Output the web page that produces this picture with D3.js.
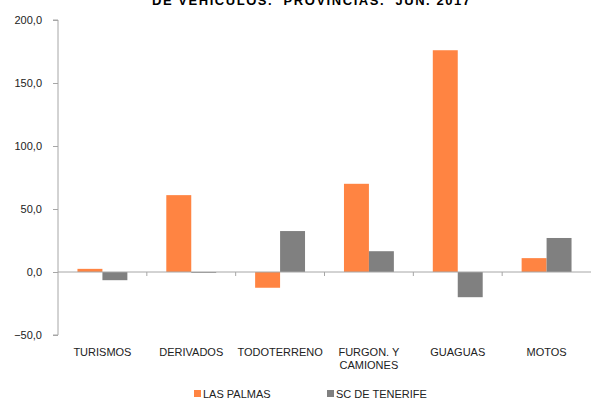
<!DOCTYPE html>
<html><head><meta charset="utf-8">
<script src="https://cdn.jsdelivr.net/npm/d3@7"></script>
<style>body{margin:0;background:#fff}svg{display:block;font-family:"Liberation Sans",Arial,sans-serif}</style>
</head><body><svg id="c" width="598" height="401"></svg>
<script>
const categories = ["TURISMOS","DERIVADOS","TODOTERRENO","FURGON. Y CAMIONES","GUAGUAS","MOTOS"];
const lasPalmas = [2.5, 61.0, -12.5, 70.0, 176.0, 11.0];
const tenerife = [-6.5, -0.5, 32.5, 16.5, -20.0, 27.0];
const seriesNames = ["LAS PALMAS","SC DE TENERIFE"];
const yTicks = [-50,0,50,100,150,200];

const svg = d3.select("#c");
const colors = ["#FF8442","#808080"];
const pLeft = 58, pRight = 591, pTop = 20, pBottom = 335;
const x = d3.scaleBand().domain(categories).range([pLeft,pRight]).paddingInner(0).paddingOuter(0);
const y = d3.scaleLinear().domain([-50,200]).range([pBottom,pTop]);
const x1 = d3.scaleBand().domain([0,1]).range([0,x.bandwidth()]).paddingInner(0).paddingOuter(0.78);

svg.append("text").attr("x",311).attr("y",5).attr("text-anchor","middle")
  .attr("font-size",13).attr("font-weight","bold").attr("fill","#000")
  .style("white-space","pre").attr("textLength",318).attr("lengthAdjust","spacing")
  .text("DE VEHICULOS.  PROVINCIAS.  JUN. 2017");

// y axis
const ya = svg.append("g").attr("transform",`translate(${pLeft},0)`)
  .call(d3.axisLeft(y).tickValues(yTicks).tickSize(5).tickFormat(d=>d3.format(".1f")(d).replace(".",",")));
ya.select(".domain").attr("stroke","#A6A6A6").attr("d",`M-5,${pTop}H0V${pBottom}H-5`);
ya.selectAll(".tick line").attr("stroke","#A6A6A6");
ya.selectAll(".tick text").attr("font-size",11).attr("fill","#222").attr("x",-16).attr("font-family","Liberation Sans, Arial, sans-serif");

// bars
const data = categories.map((c,i)=>({c, v:[lasPalmas[i], tenerife[i]]}));
const g = svg.append("g");
data.forEach(d=>{
  d.v.forEach((v,k)=>{
    g.append("rect").attr("x",x(d.c)+x1(k)).attr("width",x1.bandwidth())
      .attr("y",y(Math.max(0,v))).attr("height",Math.max(0.8,Math.abs(y(v)-y(0))))
      .attr("fill",colors[k]);
  });
});

// x axis at zero
const xa = svg.append("g").attr("transform",`translate(0,${y(0)})`)
  .call(d3.axisBottom(x).tickSize(0).tickFormat(""));
xa.select(".domain").attr("stroke","#A6A6A6").attr("d",`M${pLeft},0H${pRight}`);
categories.forEach((c,i)=>{ if(i>0) xa.append("line").attr("x1",x(c)).attr("x2",x(c)).attr("y1",0).attr("y2",4).attr("stroke","#A6A6A6"); });

// category labels
categories.forEach(c=>{
  const t = svg.append("text").attr("x",x(c)+x.bandwidth()/2).attr("y",356).attr("text-anchor","middle")
    .attr("font-size",11).attr("fill","#222");
  if(c==="FURGON. Y CAMIONES"){
    t.append("tspan").attr("x",x(c)+x.bandwidth()/2).attr("dy",0).text("FURGON. Y");
    t.append("tspan").attr("x",x(c)+x.bandwidth()/2).attr("dy",13).text("CAMIONES");
  } else t.text(c);
});

// legend
const lx = [194,327];
seriesNames.forEach((n,k)=>{
  svg.append("rect").attr("x",lx[k]).attr("y",390).attr("width",7).attr("height",7).attr("fill",colors[k]);
  svg.append("text").attr("x",lx[k]+9).attr("y",398).attr("font-size",11).attr("fill","#222").text(n);
});
</script></body></html>
